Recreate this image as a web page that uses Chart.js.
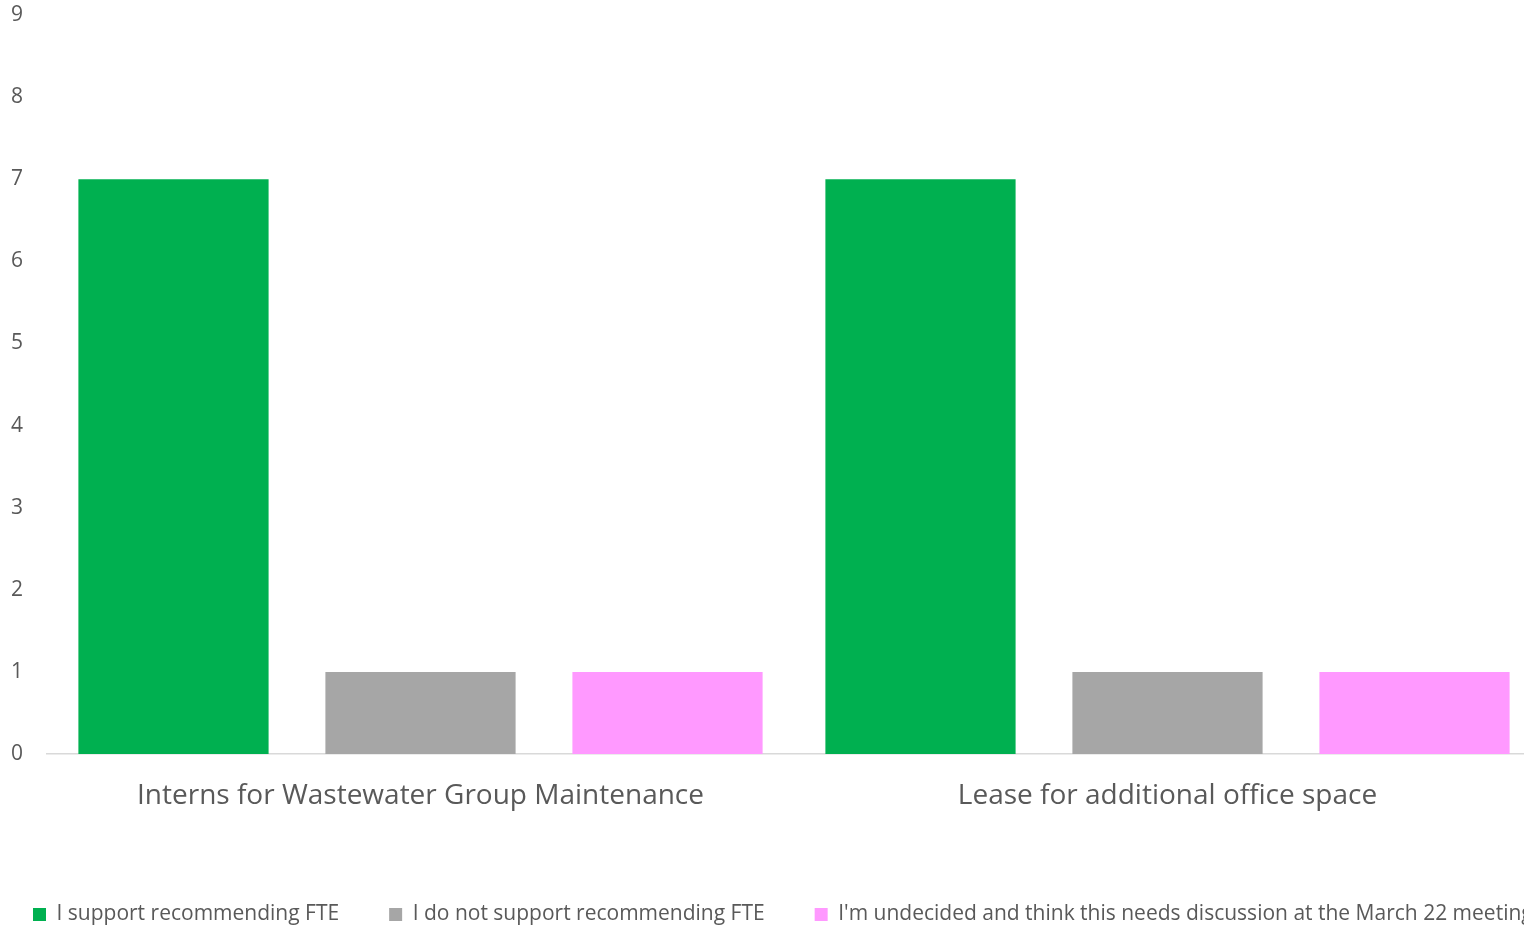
<!DOCTYPE html>
<html>
<head>
<meta charset="utf-8">
<script src="https://cdn.jsdelivr.net/npm/chart.js@4"></script>
<style>
  html, body { margin: 0; padding: 0; background: #fff; overflow: hidden; }
  #wrap { width: 1640px; height: 926px; }
</style>
</head>
<body>
<div id="wrap"><canvas id="chart"></canvas></div>
<script>
const categories = ['Interns for Wastewater Group Maintenance', 'Lease for additional office space'];
const supportVotes = [7, 7];
const opposeVotes = [1, 1];
const undecidedVotes = [1, 1];
const seriesNames = [
  'I support recommending FTE',
  'I do not support recommending FTE',
  "I'm undecided and think this needs discussion at the March 22 meeting"
];
const yTicks = [0, 1, 2, 3, 4, 5, 6, 7, 8, 9];

const textColor = '#595959';
const fontFamily = '"Open Sans", "DejaVu Sans", sans-serif';

const ctx = document.getElementById('chart').getContext('2d');
new Chart(ctx, {
  type: 'bar',
  data: {
    labels: categories,
    datasets: [
      { label: seriesNames[0], data: supportVotes, backgroundColor: '#00B050' },
      { label: seriesNames[1], data: opposeVotes, backgroundColor: '#A6A6A6' },
      { label: seriesNames[2], data: undecidedVotes, backgroundColor: '#FF99FF' }
    ]
  },
  options: {
    responsive: true,
    maintainAspectRatio: false,
    animation: false,
    categoryPercentage: 0.992,
    barPercentage: 0.77,
    // the plot runs past the right edge of the window
    layout: { padding: { top: 15, left: -17, right: 0, bottom: -9 } },
    scales: {
      x: {
        grid: { display: false },
        border: { display: true, color: '#D9D9D9', width: 1.5 },
        ticks: {
          color: textColor,
          padding: 17,
          maxRotation: 0,
          font: { family: fontFamily, size: 28 }
        },
        afterFit: scale => {
          scale.paddingLeft = 0;
          scale.paddingRight = 99;
          scale.height = 100;
        }
      },
      y: {
        min: 0,
        max: yTicks[yTicks.length - 1],
        afterBuildTicks: axis => { axis.ticks = yTicks.map(v => ({ value: v })); },
        grid: { display: false },
        border: { display: false },
        ticks: {
          color: textColor,
          padding: 16,
          font: { family: fontFamily, size: 21 }
        },
        afterFit: scale => {
          scale.paddingTop = 0;
          scale.paddingBottom = 0;
          scale.width = 64;
        }
      }
    },
    plugins: {
      legend: {
        display: true,
        position: 'bottom',
        align: 'start',
        labels: {
          color: textColor,
          boxWidth: 13,
          boxHeight: 13,
          padding: 50,
          font: { family: fontFamily, size: 21 }
        }
      },
      tooltip: { enabled: true }
    }
  }
});
</script>
</body>
</html>
